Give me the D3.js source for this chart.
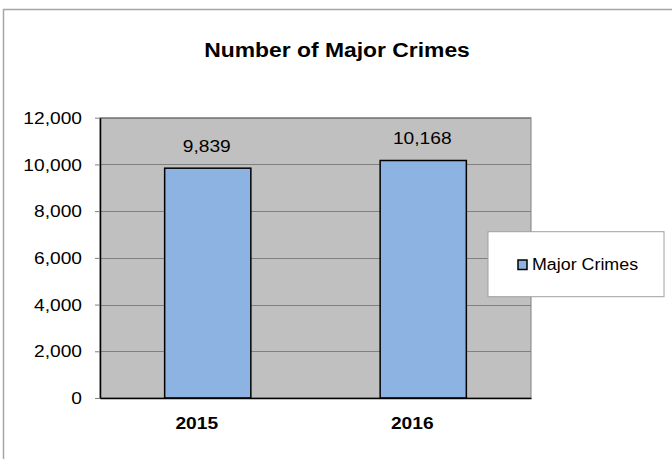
<!DOCTYPE html>
<html>
<head>
<meta charset="utf-8">
<script src="https://cdn.jsdelivr.net/npm/d3@7"></script>
<style>
  html, body { margin: 0; padding: 0; background: #fff; }
  svg { display: block; font-family: "Liberation Sans", Arial, sans-serif; }
</style>
</head>
<body>
<svg id="chart" width="672" height="459"></svg>
<script>
const title = "Number of Major Crimes";
const categories = ["2015", "2016"];
const seriesName = "Major Crimes";
const values = [9839, 10168];
const yTicks = [0, 2000, 4000, 6000, 8000, 10000, 12000];

const svg = d3.select("#chart");
const W = 672, H = 459;
const plot = { left: 100, right: 531, top: 117.7, bottom: 398 };
const sx = 1.13; // horizontal text stretch seen in the reference

// outer chart border (cropped at right/bottom)
svg.append("rect").attr("x", 3.5).attr("y", 9.5).attr("width", 700).attr("height", 500)
  .attr("fill", "#fff").attr("stroke", "#a6a6a6").attr("stroke-width", 1.5);

// title
svg.append("text")
  .attr("transform", `translate(337,57.3) scale(1.1,1)`)
  .attr("text-anchor", "middle")
  .attr("font-size", 20.8).attr("font-weight", "bold").attr("fill", "#000")
  .text(title);

const y = d3.scaleLinear().domain([0, 12000]).range([plot.bottom, plot.top]);
const x = d3.scaleBand().domain(categories).range([plot.left, plot.right])
  .paddingInner(0.6).paddingOuter(0.3);

// plot area
svg.append("rect").attr("x", plot.left).attr("y", plot.top)
  .attr("width", plot.right - plot.left).attr("height", plot.bottom - plot.top)
  .attr("fill", "#c0c0c0").attr("stroke", "#808080").attr("stroke-width", 1);

// gridlines
svg.append("g").selectAll("line").data(yTicks.filter(d => d > 0)).join("line")
  .attr("x1", plot.left).attr("x2", plot.right)
  .attr("y1", d => Math.round(y(d)) + 0.5).attr("y2", d => Math.round(y(d)) + 0.5)
  .attr("stroke", "#808080").attr("stroke-width", 1);

// bars
svg.append("g").selectAll("rect").data(values).join("rect")
  .attr("x", (d, i) => x(categories[i]))
  .attr("y", d => y(d))
  .attr("width", x.bandwidth())
  .attr("height", d => y(0) - y(d))
  .attr("fill", "#8db3e2").attr("stroke", "#000").attr("stroke-width", 1.5);

// data labels
svg.append("g").selectAll("text").data(values).join("text")
  .attr("transform", (d, i) => `translate(${x(categories[i]) + x.bandwidth() / 2 - 1},${y(d) - 16}) scale(${sx},1)`)
  .attr("text-anchor", "middle").attr("font-size", 17).attr("fill", "#000")
  .text(d => d3.format(",")(d));

// y axis
const yAxis = svg.append("g").attr("transform", `translate(${plot.left},0)`)
  .call(d3.axisLeft(y).tickValues(yTicks).tickFormat(d3.format(",")).tickSize(5).tickSizeOuter(0));
yAxis.select(".domain").attr("stroke", "#000").attr("stroke-width", 1.5);
yAxis.selectAll(".tick line").attr("stroke", "#808080");
yAxis.selectAll(".tick text")
  .attr("x", 0).attr("dy", null).attr("y", 0)
  .attr("dominant-baseline", "central")
  .attr("transform", `translate(-18,0) scale(${sx},1)`)
  .attr("font-size", 17).attr("font-family", "Liberation Sans, Arial, sans-serif").attr("fill", "#000");

// x axis
const xAxis = svg.append("g").attr("transform", `translate(0,${plot.bottom})`)
  .call(d3.axisBottom(x).tickSize(0).tickSizeOuter(0));
xAxis.select(".domain").attr("stroke", "#000").attr("stroke-width", 1.5);
xAxis.selectAll(".tick text")
  .attr("y", 0).attr("dy", null)
  .attr("transform", `translate(-11,31.3) scale(${sx},1)`)
  .attr("font-size", 17).attr("font-weight", "bold")
  .attr("font-family", "Liberation Sans, Arial, sans-serif").attr("fill", "#000");

// legend
const lg = svg.append("g");
lg.append("rect").attr("x", 488).attr("y", 231.7).attr("width", 176).attr("height", 65)
  .attr("fill", "#fff").attr("stroke", "#a0a0a0").attr("stroke-width", 1);
lg.append("rect").attr("x", 518).attr("y", 260).attr("width", 9).attr("height", 9.5)
  .attr("fill", "#8db3e2").attr("stroke", "#000").attr("stroke-width", 1.5);
lg.append("text").attr("transform", `translate(532,270) scale(${sx},1)`)
  .attr("font-size", 15.8).attr("fill", "#000").text(seriesName);
</script>
</body>
</html>
